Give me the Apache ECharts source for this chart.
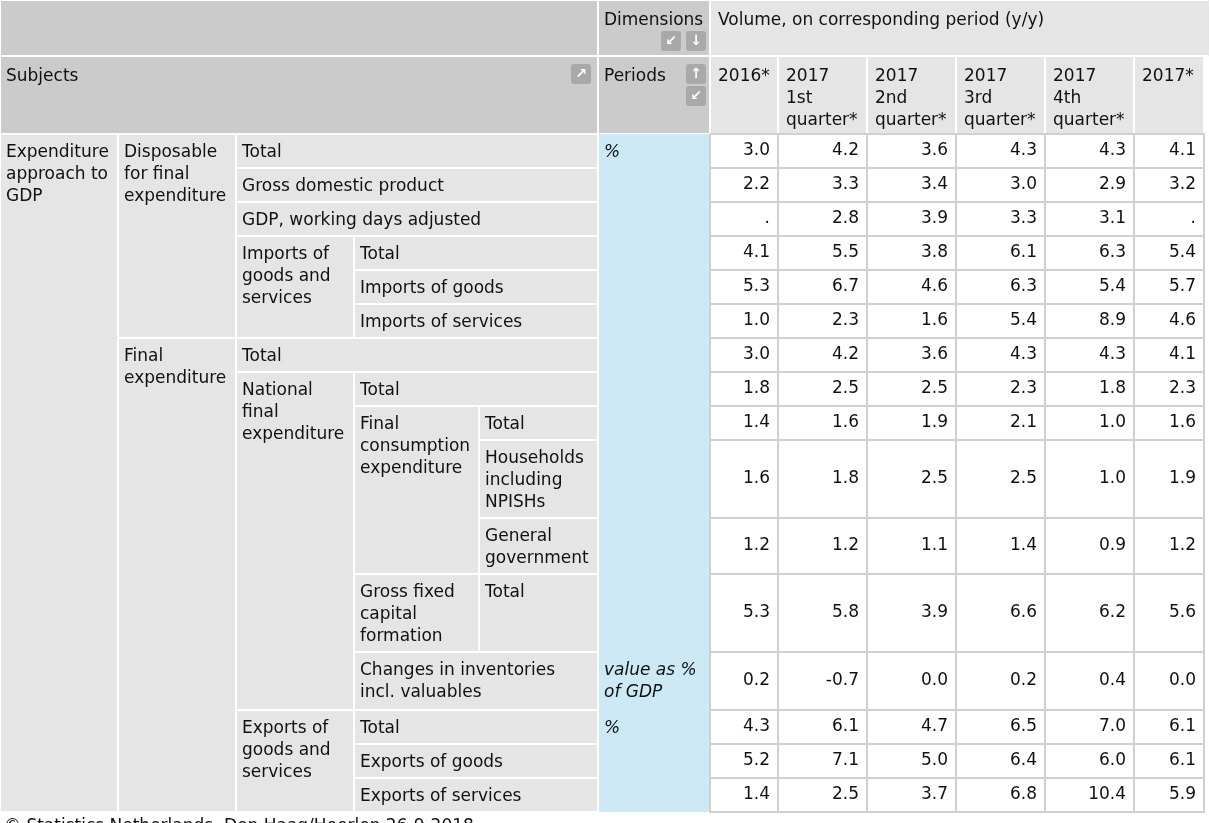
<!DOCTYPE html>
<html><head><meta charset="utf-8">
<script src="https://cdn.jsdelivr.net/npm/echarts@6/dist/echarts.min.js"></script>
<style>html,body{margin:0;padding:0;background:#fff}#app{width:1210px;height:823px}</style>
</head><body><div id="app"></div>
<script>
// table data
const periods = ['2016*', '2017\n1st\nquarter*', '2017\n2nd\nquarter*', '2017\n3rd\nquarter*', '2017\n4th\nquarter*', '2017*'];
const values = [
  ['3.0', '4.2', '3.6', '4.3', '4.3', '4.1'],
  ['2.2', '3.3', '3.4', '3.0', '2.9', '3.2'],
  ['.', '2.8', '3.9', '3.3', '3.1', '.'],
  ['4.1', '5.5', '3.8', '6.1', '6.3', '5.4'],
  ['5.3', '6.7', '4.6', '6.3', '5.4', '5.7'],
  ['1.0', '2.3', '1.6', '5.4', '8.9', '4.6'],
  ['3.0', '4.2', '3.6', '4.3', '4.3', '4.1'],
  ['1.8', '2.5', '2.5', '2.3', '1.8', '2.3'],
  ['1.4', '1.6', '1.9', '2.1', '1.0', '1.6'],
  ['1.6', '1.8', '2.5', '2.5', '1.0', '1.9'],
  ['1.2', '1.2', '1.1', '1.4', '0.9', '1.2'],
  ['5.3', '5.8', '3.9', '6.6', '6.2', '5.6'],
  ['0.2', '-0.7', '0.0', '0.2', '0.4', '0.0'],
  ['4.3', '6.1', '4.7', '6.5', '7.0', '6.1'],
  ['5.2', '7.1', '5.0', '6.4', '6.0', '6.1'],
  ['1.4', '2.5', '3.7', '6.8', '10.4', '5.9']
];
// [text, colStart, colEnd, rowStart, rowEnd]
const subjects = [
  ['Expenditure\napproach to\nGDP', 0, 1, 0, 16],
  ['Disposable\nfor final\nexpenditure', 1, 2, 0, 6],
  ['Total', 2, 5, 0, 1],
  ['Gross domestic product', 2, 5, 1, 2],
  ['GDP, working days adjusted', 2, 5, 2, 3],
  ['Imports of\ngoods and\nservices', 2, 3, 3, 6],
  ['Total', 3, 5, 3, 4],
  ['Imports of goods', 3, 5, 4, 5],
  ['Imports of services', 3, 5, 5, 6],
  ['Final\nexpenditure', 1, 2, 6, 16],
  ['Total', 2, 5, 6, 7],
  ['National\nfinal\nexpenditure', 2, 3, 7, 13],
  ['Total', 3, 5, 7, 8],
  ['Final\nconsumption\nexpenditure', 3, 4, 8, 11],
  ['Total', 4, 5, 8, 9],
  ['Households\nincluding\nNPISHs', 4, 5, 9, 10],
  ['General\ngovernment', 4, 5, 10, 11],
  ['Gross fixed\ncapital\nformation', 3, 4, 11, 12],
  ['Total', 4, 5, 11, 12],
  ['Changes in inventories\nincl. valuables', 3, 5, 12, 13],
  ['Exports of\ngoods and\nservices', 2, 3, 13, 16],
  ['Total', 3, 5, 13, 14],
  ['Exports of goods', 3, 5, 14, 15],
  ['Exports of services', 3, 5, 15, 16]
];
const units = [['%', 0, 12], ['value as %\nof GDP', 12, 13], ['%', 13, 16]];

const colX = [0, 118, 236, 354, 479, 598, 710, 778, 867, 956, 1045, 1134, 1204];
const rowY = [134, 168, 202, 236, 270, 304, 338, 372, 406, 440, 518, 574, 652, 710, 744, 778, 812];
const FONT = '17px "DejaVu Sans"';
const g = [];

function cell(x0, y0, x1, y1, fill, stroke) {
  g.push({ type: 'rect', shape: { x: x0, y: y0, width: x1 - x0, height: y1 - y0 },
    style: { fill: fill, stroke: stroke, lineWidth: 2 } });
}
function txt(x, y, s, opt) {
  g.push({ type: 'text', x: x, y: y, style: Object.assign({ text: s, font: FONT, fill: '#111', lineHeight: 22 }, opt || {}) });
}
function icon(x, y, ch) {
  g.push({ type: 'rect', shape: { x: x, y: y, width: 20, height: 20, r: 3 }, style: { fill: '#a9a9a9' } });
  txt(x + 10, y + 10, ch, { align: 'center', verticalAlign: 'middle', fill: '#fff', font: 'bold 14px "DejaVu Sans"' });
}

// header
const dark = '#cbcbcb', light = '#e5e5e5';
cell(0, 0, 598, 56, dark, '#fff');
cell(598, 0, 710, 56, dark, '#fff');
cell(710, 0, 1210, 56, light, '#fff');
txt(604, 10, 'Dimensions');
txt(718, 10, 'Volume, on corresponding period (y/y)');
icon(661, 31, '↙'); icon(686, 31, '↓');
cell(0, 56, 598, 134, dark, '#fff');
txt(6, 66, 'Subjects');
icon(571, 64, '↗');
cell(598, 56, 710, 134, dark, '#fff');
txt(604, 66, 'Periods');
icon(686, 64, '↑'); icon(686, 86, '↙');
periods.forEach((p, i) => {
  cell(colX[6 + i], 56, colX[7 + i], 134, light, '#fff');
  txt(colX[6 + i] + 8, 66, p);
});

// subjects
subjects.forEach(s => {
  cell(colX[s[1]], rowY[s[3]], colX[s[2]], rowY[s[4]], light, '#fff');
  txt(colX[s[1]] + 6, rowY[s[3]] + 8, s[0]);
});
// units
units.forEach(u => {
  g.push({ type: 'rect', shape: { x: 598, y: rowY[u[1]], width: 112, height: rowY[u[2]] - rowY[u[1]] }, style: { fill: '#cde9f6' } });
  txt(604, rowY[u[1]] + 8, u[0], { font: 'italic 17px "DejaVu Sans"' });
});
g.push({ type: 'line', shape: { x1: 598, y1: 134, x2: 598, y2: 812 }, style: { stroke: '#fff', lineWidth: 2 } });
// values
values.forEach((row, r) => {
  row.forEach((v, c) => {
    cell(colX[6 + c], rowY[r], colX[7 + c], rowY[r + 1], '#fff', '#d0d0d0');
    txt(colX[7 + c] - 8, (rowY[r] + rowY[r + 1]) / 2, v, { align: 'right', verticalAlign: 'middle' });
  });
});
txt(4, 816, '© Statistics Netherlands, Den Haag/Heerlen 26-9-2018');

const chart = echarts.init(document.getElementById('app'));
chart.setOption({ animation: false, graphic: { elements: g } });
</script>
</body></html>
